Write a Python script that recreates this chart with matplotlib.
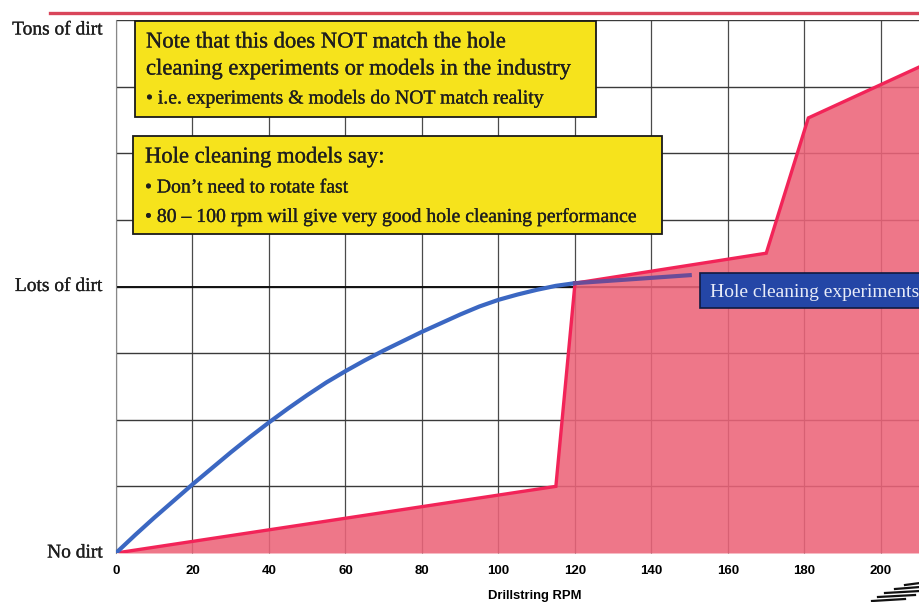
import matplotlib
matplotlib.use("Agg")
import matplotlib.pyplot as plt
from matplotlib.patches import Rectangle
from matplotlib.lines import Line2D
import matplotlib.patheffects as pe

W, H = 920, 602

# field observations: debris left in the hole vs. drillstring rotation
field_rpm = [0, 115, 120, 170, 181, 210.2]
field_dirt = [0.0, 1.0, 4.05, 4.5, 6.53, 7.3]

# what the hole cleaning models predict
model_rpm = [0, 5, 10, 15, 20, 25, 30, 35, 40, 45, 50, 55, 60, 65, 70, 75, 80,
             85, 90, 95, 100, 105, 110, 115, 120]
model_dirt = [0.0, 0.27, 0.53, 0.78, 1.03, 1.27, 1.51, 1.74, 1.96, 2.17, 2.37,
              2.56, 2.73, 2.89, 3.04, 3.18, 3.32, 3.45, 3.58, 3.70, 3.80, 3.88,
              3.95, 4.01, 4.05]

# leader from the model curve to the experiments label
leader_rpm = [120, 150]
leader_dirt = [4.05, 4.17]

rpm_ticks = list(range(0, 201, 20))
dirt_levels = [0, 4, 7.85]
dirt_names = ["No dirt", "Lots of dirt", "Tons of dirt"]

SERIF = "Liberation Serif"
SANS = "Liberation Sans"
INK = "#1e1e1e"
thick = [pe.withStroke(linewidth=0.2, foreground=INK)]


def px(x, y):
    return x / W, 1 - y / H


fig = plt.figure(figsize=(W / 100, H / 100), dpi=100)
ax = fig.add_axes([116 / W, 1 - 553 / H, (W - 116) / W, (553 - 20) / H])
ax.set_xlim(0, 210.2)
ax.set_ylim(0, 8)

# grid sits underneath the shaded area
for v in range(0, 201, 20):
    ax.axvline(v, color="#4a4a4a", lw=0.9, zorder=1)
for v in range(1, 9):
    ax.axhline(v, color="#3a3a3a", lw=1.0, zorder=1)
ax.axhline(4, color="#111111", lw=1.4, zorder=1)

ax.fill_between(field_rpm, field_dirt, 0, color="#ec6479", alpha=0.88, lw=0, zorder=2)
ax.plot(field_rpm, field_dirt, color="#f22458", lw=2.4, zorder=3, solid_joinstyle="miter")
ax.plot(model_rpm, model_dirt, color="#3b67c2", lw=3.0, zorder=4, solid_capstyle="round")
ax.plot(leader_rpm, leader_dirt, color="#6a4c98", lw=3.0, zorder=4)

for s in ["top", "right", "bottom"]:
    ax.spines[s].set_visible(False)
ax.spines["left"].set_color("#888888")
ax.spines["left"].set_linewidth(0.8)

ax.set_yticks([])
ax.set_xticks(rpm_ticks)
ax.set_xticklabels([str(t) for t in rpm_ticks], fontfamily=SANS, fontweight="bold", fontsize=9.5)
ax.tick_params(axis="x", length=3, direction="in", pad=9, color="#555555")

ylab_tf = ax.get_yaxis_transform()
for lvl, name in zip(dirt_levels, dirt_names):
    ax.text(-0.016, lvl, name, transform=ylab_tf, ha="right", va="center",
            fontfamily=SERIF, fontsize=14, clip_on=False, color=INK, path_effects=thick)

fig.text(*px(488, 596), "Drillstring RPM", fontfamily=SANS, fontweight="bold",
         fontsize=9.4, ha="left", va="center")

# slide rule across the top
fig.add_artist(Line2D([50 / W, 1.0], [1 - 13 / H] * 2, color="#d9455a", lw=2.4))


# call-out boxes
def box(x0, y0, x1, y1, face, edge="#1a1a1a", lw=1.3):
    fig.add_artist(Rectangle(px(x0, y1), (x1 - x0) / W, (y1 - y0) / H,
                             transform=fig.transFigure, facecolor=face,
                             edgecolor=edge, lw=lw, zorder=5))


def note(x, y, s, size):
    fig.text(*px(x, y), s, fontfamily=SERIF, fontsize=size, va="center",
             zorder=6, color=INK, path_effects=thick)


box(135, 21, 596, 117, "#f6e31c")
note(146, 42, "Note that this does NOT match the hole", 16.3)
note(146, 69, "cleaning experiments or models in the industry", 16.3)
note(146, 99, "\u2022 i.e. experiments & models do NOT match reality", 14.2)

box(133, 136, 662, 234, "#f6e31c")
note(145, 157, "Hole cleaning models say:", 16.3)
note(145, 188, "\u2022 Don\u2019t need to rotate fast", 14.2)
note(145, 217, "\u2022 80 \u2013 100 rpm will give very good hole cleaning performance", 14.2)

# experiments label
box(700, 273, 935, 308, "#2446a6", edge="#101a40", lw=1.2)
fig.text(*px(710, 292), "Hole cleaning experiments", fontfamily=SERIF, fontsize=14,
         va="center", zorder=6, color="#e8ecf8")

# corner logo stripes
for xa, xb, y in [(905, 920, 584), (895, 920, 588), (885, 920, 592),
                  (878, 915, 596), (872, 905, 600)]:
    fig.add_artist(Line2D([xa / W, xb / W], [1 - (y + 1) / H, 1 - (y - 1) / H],
                          color="#111111", lw=1.6))

fig.savefig("out.png", dpi=100)
